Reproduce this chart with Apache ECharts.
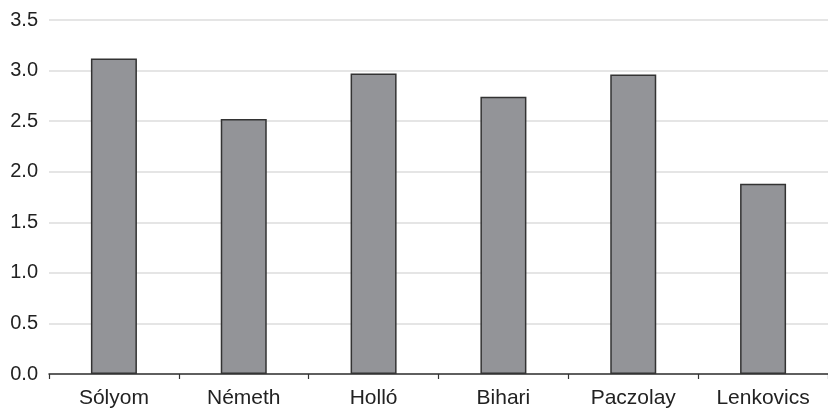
<!DOCTYPE html>
<html>
<head>
<meta charset="utf-8">
<script src="https://cdn.jsdelivr.net/npm/echarts@6/dist/echarts.min.js"></script>
<style>
  html, body { margin: 0; padding: 0; background: #fff; }
  #chart { width: 828px; height: 412px; }
</style>
</head>
<body>
<div id="chart"></div>
<script>
// Mean score per person
const names = ['Sólyom', 'Németh', 'Holló', 'Bihari', 'Paczolay', 'Lenkovics'];
const scores = [3.12, 2.52, 2.97, 2.74, 2.96, 1.88];
const yTicks = { min: 0, max: 3.5, step: 0.5 };

const chart = echarts.init(document.getElementById('chart'), null, { renderer: 'canvas' });
chart.setOption({
  animation: false,
  backgroundColor: '#ffffff',
  grid: { left: 49, right: -7, top: 20, bottom: 38, containLabel: false },
  xAxis: {
    type: 'category',
    data: names,
    axisLine: { lineStyle: { color: '#333', width: 1.5 } },
    axisTick: { show: true, length: 5, lineStyle: { color: '#333', width: 1.2 } },
    axisLabel: { color: '#222', fontSize: 21, fontFamily: 'Liberation Sans, Arial, sans-serif', margin: 14 },
    splitLine: { show: false }
  },
  yAxis: {
    type: 'value',
    min: yTicks.min,
    max: yTicks.max,
    interval: yTicks.step,
    axisLine: { show: false },
    axisTick: { show: false },
    axisLabel: {
      color: '#222', fontSize: 20, fontFamily: 'Liberation Sans, Arial, sans-serif', margin: 11,
      formatter: v => v.toFixed(1)
    },
    splitLine: { lineStyle: { color: '#dcdcdc', width: 1.5 } }
  },
  series: [{
    type: 'bar',
    data: scores,
    barWidth: 46,
    itemStyle: { color: '#939498', borderColor: '#333', borderWidth: 1.5 }
  }]
});
</script>
</body>
</html>
